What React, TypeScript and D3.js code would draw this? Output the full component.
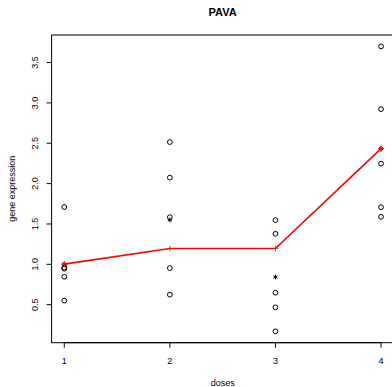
import React from "react";
import * as d3 from "d3";

const doses = [1, 2, 3, 4];
const dose1 = [1.71, 0.96, 0.945, 0.846, 0.55];
const dose2 = [2.515, 2.074, 1.584, 0.953, 0.624];
const dose3 = [1.547, 1.378, 0.648, 0.467, 0.17];
const dose4 = [3.70, 2.923, 2.247, 1.708, 1.588];
const groups = [dose1, dose2, dose3, dose4];
const yTicks = [0.5, 1.0, 1.5, 2.0, 2.5, 3.0, 3.5];
const pavaFit = [1.003, 1.196, 1.196, 2.433];

const W = 392, H = 387;
const left = 51.6, right = 393.7, top = 35, bottom = 342.7;

function pava(means: number[], weights: number[]) {
  const blocks: { v: number; w: number; n: number }[] = [];
  means.forEach((m, i) => {
    blocks.push({ v: m, w: weights[i], n: 1 });
    while (blocks.length > 1 && blocks[blocks.length - 2].v > blocks[blocks.length - 1].v) {
      const b = blocks.pop()!;
      const a = blocks.pop()!;
      blocks.push({ v: (a.v * a.w + b.v * b.w) / (a.w + b.w), w: a.w + b.w, n: a.n + b.n });
    }
  });
  const out: number[] = [];
  blocks.forEach((b) => { for (let i = 0; i < b.n; i++) out.push(b.v); });
  return out;
}

export default function App() {
  const all = groups.flat();
  const [ymin, ymax] = d3.extent(all) as [number, number];
  const ye = (ymax - ymin) * 0.04;
  const xe = (4 - 1) * 0.04;
  const x = d3.scaleLinear().domain([1 - xe, 4 + xe]).range([left, right]);
  const y = d3.scaleLinear().domain([ymin - ye, ymax + ye]).range([bottom, top]);
  const means = groups.map((g) => d3.mean(g) as number);
  const fit = pava(means, groups.map((g) => g.length));
  const fitVals = fit.length === 4 ? fit : pavaFit;
  const line = d3.line<number>().x((_, i) => x(doses[i])).y((d) => y(d));
  const font = "'Liberation Sans', Arial, Helvetica, sans-serif";

  const star = (cx: number, cy: number, key: string, color: string) => {
    const r = 2.4;
    const segs = [0, 60, 120].map((a) => {
      const rad = (a * Math.PI) / 180 + Math.PI / 2;
      return (
        <line key={a} x1={cx - r * Math.cos(rad)} y1={cy - r * Math.sin(rad)} x2={cx + r * Math.cos(rad)} y2={cy + r * Math.sin(rad)} stroke={color} strokeWidth={1} />
      );
    });
    return <g key={key}>{segs}</g>;
  };

  const plus = (cx: number, cy: number, key: string, color: string) => (
    <g key={key}>
      <line x1={cx - 3} y1={cy} x2={cx + 3} y2={cy} stroke={color} strokeWidth={1} />
      <line x1={cx} y1={cy - 3} x2={cx} y2={cy + 3} stroke={color} strokeWidth={1} />
    </g>
  );

  return (
    <svg width={W} height={H} style={{ position: "absolute", left: 0, top: 0, background: "#fff" }} fontFamily={font}>
      <rect x={0} y={0} width={W} height={H} fill="#fff" />
      <text x={(left + right) / 2} y={16} textAnchor="middle" fontSize={11} fontWeight="bold" fill="#000">PAVA</text>
      <rect x={left} y={top} width={right - left} height={bottom - top} fill="none" stroke="#000" strokeWidth={1} />
      {/* x axis */}
      <line x1={x(1)} x2={x(4)} y1={bottom} y2={bottom} stroke="#000" />
      {doses.map((d) => (
        <g key={"xt" + d}>
          <line x1={x(d)} x2={x(d)} y1={bottom} y2={bottom + 5} stroke="#000" />
          <text x={x(d)} y={364} textAnchor="middle" fontSize={9} fill="#000">{d}</text>
        </g>
      ))}
      <text x={(left + right) / 2} y={386} textAnchor="middle" fontSize={9} fill="#000">doses</text>
      {/* y axis */}
      {yTicks.map((t) => (
        <g key={"yt" + t}>
          <line x1={left - 5} x2={left} y1={y(t)} y2={y(t)} stroke="#000" />
          <text transform={`translate(37.5,${y(t)}) rotate(-90)`} textAnchor="middle" fontSize={9} fill="#000">{t.toFixed(1)}</text>
        </g>
      ))}
      <text transform={`translate(15,${(top + bottom) / 2}) rotate(-90)`} textAnchor="middle" fontSize={9} fill="#000">gene expression</text>
      {/* points */}
      {groups.map((g, i) =>
        g.map((v, j) => (
          <circle key={`p${i}-${j}`} cx={x(doses[i])} cy={y(v)} r={2.4} fill="none" stroke="#000" strokeWidth={1} />
        ))
      )}
      {means.map((m, i) => star(x(doses[i]), y(m), "m" + i, "#000"))}
      {fitVals.map((v, i) => plus(x(doses[i]), y(v), "g" + i, "#2db82d"))}
      <path d={line(fitVals) || ""} fill="none" stroke="#ff0000" strokeWidth={1.6} />
      {fitVals.map((v, i) => (i === 0 || i === 3 ? plus(x(doses[i]), y(v), "r" + i, "#ff0000") : null))}
    </svg>
  );
}
